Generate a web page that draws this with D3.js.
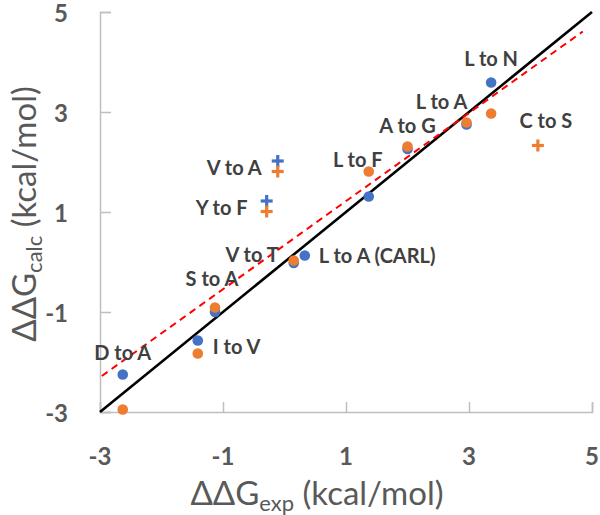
<!DOCTYPE html>
<html><head><meta charset="utf-8">
<script src="https://cdn.jsdelivr.net/npm/d3@7"></script>
<style>body{margin:0;background:#fff}svg{display:block}</style>
</head><body>
<script>
// ---- data ----
const circleLabels = ["D to A","I to V","S to A","V to T","L to A (CARL)","L to F","A to G","L to A","L to N"];
const circleExp    = [-2.63,-1.41,-1.13,0.15,0.33,1.37,2.00,2.96,3.36];
const circleBlue   = [-2.25,-1.57,-1.00,-0.02,0.13,1.31,2.26,2.75,3.59];
const circleOrange = [-2.95,-1.83,-0.91,0.03,null,1.81,2.31,2.79,2.97];

const plusLabels = ["V to A","Y to F","C to S"];
const plusExp    = [-0.11,-0.29,4.12];
const plusBlue   = [2.02,1.22,null];
const plusOrange = [1.81,1.01,2.33];

const xTicks = [-3,-1,1,3,5];
const yTicks = [-3,-1,1,3,5];
const identityLine = [-3,5];
const fitSlope = 0.881, fitIntercept = 0.337, fitRange = [-2.97,4.85];

// label layout (pixel offsets from the marker, anchor)
const circleLabelLayout = [
  {ref:"b",dx:0,dy:-15,a:"middle"},
  {ref:"b",dx:15,dy:13,a:"start"},
  {ref:"b",dx:-3,dy:-26,a:"middle"},
  {ref:"o",dx:-15,dy:1,a:"end"},
  {ref:"b",dx:14,dy:7,a:"start"},
  {ref:"o",dx:-11,dy:-5,a:"middle"},
  {ref:"o",dx:0,dy:-14,a:"middle"},
  {ref:"o",dx:-25,dy:-14,a:"middle"},
  {ref:"b",dx:0,dy:-17,a:"middle"}
];
const plusLabelLayout = [
  {ref:"b",dx:-16,dy:14,a:"end"},
  {ref:"b",dx:-19,dy:14,a:"end"},
  {ref:"o",dx:8,dy:-18,a:"middle"}
];

const W=600,H=515;
const BLUE="#4472C4", ORANGE="#ED7D31", AXIS="#BFBFBF", TXT="#595959", LBL="#404040";
const FONT="Lato, 'Open Sans', sans-serif";

const svg=d3.select("body").append("svg").attr("width",W).attr("height",H);
const x=d3.scaleLinear().domain([-3,5]).range([100,592]);
const y=d3.scaleLinear().domain([-3,5]).range([412,12]);

// axes
const xAxis=svg.append("g").attr("transform",`translate(0,${y(-3)})`)
  .call(d3.axisTop(x).tickValues(xTicks).tickSize(10).tickFormat(""));
const yAxis=svg.append("g").attr("transform",`translate(${x(-3)},0)`)
  .call(d3.axisRight(y).tickValues(yTicks).tickSize(11).tickFormat(""));
[xAxis,yAxis].forEach(g=>{
  g.select(".domain").attr("stroke",AXIS).attr("stroke-width",1.5);
  g.selectAll(".tick line").attr("stroke",AXIS).attr("stroke-width",1.5);
});
// tick labels
svg.append("g").selectAll("text").data(xTicks).join("text")
  .attr("x",d=>x(d)).attr("y",465).attr("text-anchor","middle")
  .attr("font-family",FONT).attr("font-weight","bold").attr("font-size",24).attr("fill",TXT)
  .text(d=>d);
svg.append("g").selectAll("text").data(yTicks).join("text")
  .attr("x",68).attr("y",d=>y(d)+10).attr("text-anchor","end")
  .attr("font-family",FONT).attr("font-weight","bold").attr("font-size",24).attr("fill",TXT)
  .text(d=>d);

// axis titles
const xt=svg.append("text").attr("x",317).attr("y",505).attr("text-anchor","middle")
  .attr("font-family",FONT).attr("font-size",33).attr("fill",TXT);
xt.append("tspan").text("ΔΔG");
xt.append("tspan").attr("font-size",22).attr("dy",6).text("exp");
xt.append("tspan").attr("dy",-6).text(" (kcal/mol)");
const yt=svg.append("text").attr("transform","translate(36,214) rotate(-90)").attr("text-anchor","middle")
  .attr("font-family",FONT).attr("font-size",33).attr("fill",TXT);
yt.append("tspan").text("ΔΔG");
yt.append("tspan").attr("font-size",22).attr("dy",6).text("calc");
yt.append("tspan").attr("dy",-6).text(" (kcal/mol)");

// lines
svg.append("line").attr("x1",x(identityLine[0])).attr("y1",y(identityLine[0]))
  .attr("x2",x(identityLine[1])).attr("y2",y(identityLine[1]))
  .attr("stroke","#000").attr("stroke-width",2.6);
svg.append("line").attr("x1",x(fitRange[0])).attr("y1",y(fitSlope*fitRange[0]+fitIntercept))
  .attr("x2",x(fitRange[1])).attr("y2",y(fitSlope*fitRange[1]+fitIntercept))
  .attr("stroke","#FF0000").attr("stroke-width",2).attr("stroke-dasharray","7,5");

// circles
const cData=circleLabels.map((l,i)=>({l,x:circleExp[i],b:circleBlue[i],o:circleOrange[i],lay:circleLabelLayout[i]}));
const gc=svg.append("g");
gc.selectAll(".cb").data(cData.filter(d=>d.b!==null)).join("circle").attr("class","cb")
  .attr("cx",d=>x(d.x)).attr("cy",d=>y(d.b)).attr("r",5.3).attr("fill",BLUE);
gc.selectAll(".co").data(cData.filter(d=>d.o!==null)).join("circle").attr("class","co")
  .attr("cx",d=>x(d.x)).attr("cy",d=>y(d.o)).attr("r",5.3).attr("fill",ORANGE);

// plus markers
const pData=plusLabels.map((l,i)=>({l,x:plusExp[i],b:plusBlue[i],o:plusOrange[i],lay:plusLabelLayout[i]}));
function plus(g,color){
  g.append("line").attr("x1",-6).attr("x2",6).attr("stroke",color).attr("stroke-width",3.2);
  g.append("line").attr("y1",-6).attr("y2",6).attr("stroke",color).attr("stroke-width",3.2);
}
pData.forEach(d=>{
  if(d.b!==null) plus(svg.append("g").attr("transform",`translate(${x(d.x)},${y(d.b)})`),BLUE);
  if(d.o!==null) plus(svg.append("g").attr("transform",`translate(${x(d.x)},${y(d.o)})`),ORANGE);
});

// labels
svg.append("g").selectAll("text").data(cData.concat(pData)).join("text")
  .attr("x",d=>x(d.x)+d.lay.dx)
  .attr("y",d=>y(d.lay.ref==="b"?d.b:d.o)+d.lay.dy)
  .attr("text-anchor",d=>d.lay.a)
  .attr("font-family",FONT).attr("font-weight","bold").attr("font-size",20).attr("fill",LBL)
  .text(d=>d.l);
</script>
</body></html>
